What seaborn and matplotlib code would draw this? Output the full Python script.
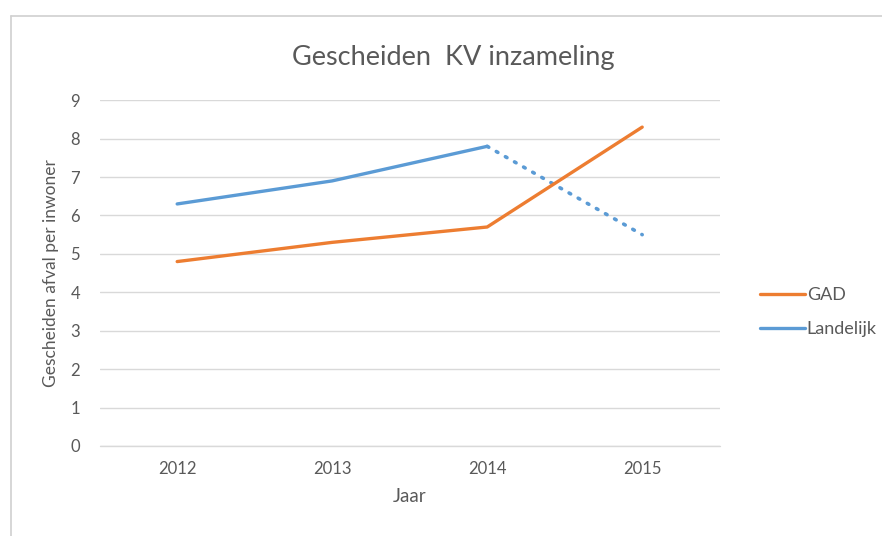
import pandas as pd
import matplotlib.pyplot as plt
import seaborn as sns
from matplotlib.lines import Line2D

# Data
jaren = [2012, 2013, 2014, 2015]
gad = [4.8, 5.3, 5.7, 8.3]
landelijk = [6.3, 6.9, 7.8, 5.5]

sns.set_theme(style="white")
plt.rcParams['font.family'] = ['Lato', 'DejaVu Sans']

oranje = '#ED7D31'
blauw = '#5B9BD5'
grijs = '#595959'

df_gad = pd.DataFrame({'Jaar': jaren, 'waarde': gad})
df_land = pd.DataFrame({'Jaar': jaren, 'waarde': landelijk})

fig = plt.figure(figsize=(8.82, 5.36), dpi=100)
ax = fig.add_axes([0.113, 0.168, 0.703, 0.645])

# Landelijk: doorgetrokken t/m 2014, gestippeld naar 2015
sns.lineplot(data=df_land.iloc[:3], x='Jaar', y='waarde', ax=ax, color=blauw,
             linewidth=2.4, solid_capstyle='round')
sns.lineplot(data=df_land.iloc[2:], x='Jaar', y='waarde', ax=ax, color=blauw,
             linewidth=2.6, linestyle=(0, (0.5, 2.4)), dash_capstyle='round')
sns.lineplot(data=df_gad, x='Jaar', y='waarde', ax=ax, color=oranje,
             linewidth=2.4, solid_capstyle='round')

ax.set_xlim(2011.5, 2015.5)
ax.set_ylim(0, 9)
ax.set_xticks(jaren)
ax.set_xticklabels([str(j) for j in jaren])
ax.set_yticks(range(0, 10))
ax.yaxis.grid(True, color='#D9D9D9', linewidth=1)
ax.xaxis.grid(False)
ax.axhline(0, color='#D9D9D9', linewidth=1, clip_on=False, zorder=0)
for s in ax.spines.values():
    s.set_visible(False)
ax.tick_params(axis='both', colors=grijs, labelsize=12, length=0)
ax.tick_params(axis='x', pad=11)
ax.tick_params(axis='y', pad=14)

ax.set_xlabel('Jaar', fontsize=13.5, color=grijs, labelpad=8)
ax.set_ylabel('Gescheiden afval per inwoner', fontsize=12.5, color=grijs, labelpad=8)
fig.text(0.514, 0.892, 'Gescheiden  KV inzameling', ha='center', va='center',
         fontsize=19.5, color=grijs)

# Legenda
handles = [Line2D([], [], color=oranje, linewidth=2.4),
           Line2D([], [], color=blauw, linewidth=2.4)]
fig.legend(handles, ['GAD', 'Landelijk'], loc='center left',
           bbox_to_anchor=(0.843, 0.418), frameon=False, fontsize=13,
           labelcolor=grijs, handlelength=2.5, handletextpad=0.1,
           labelspacing=1.0)

# Kader van de grafiek
fig.add_artist(Line2D([0.0125, 0.0125], [0, 0.97], color='#D0D0D0', linewidth=1.2))
fig.add_artist(Line2D([0.0125, 1], [0.97, 0.97], color='#D0D0D0', linewidth=1.2))

fig.savefig('out.png', dpi=100, facecolor='white')
